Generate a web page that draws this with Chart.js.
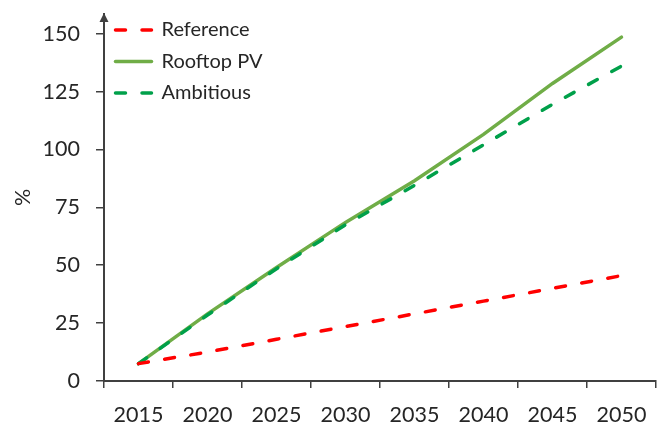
<!DOCTYPE html>
<html>
<head>
<meta charset="utf-8">
<script src="https://cdn.jsdelivr.net/npm/chart.js@4/dist/chart.umd.min.js"></script>
<style>
  html, body { margin: 0; padding: 0; background: #fff; }
  #wrap { width: 663px; height: 429px; position: relative; }
</style>
</head>
<body>
<div id="wrap"><canvas id="c"></canvas></div>
<script>
const years = ['2015', '2020', '2025', '2030', '2035', '2040', '2045', '2050'];
const reference = [7.5, 12.5, 18, 23.5, 29, 34.5, 40, 45.5];
const rooftopPV = [7.5, 29, 49, 68.5, 86.5, 106.5, 128.5, 148.5];
const ambitious = [7.5, 28.5, 48.5, 67.5, 84.5, 102, 119.5, 136];
const yTicks = [0, 25, 50, 75, 100, 125, 150];

const axisColor = '#404040';
const textColor = '#262626';
const FONT = 'Lato';

const arrowPlugin = {
  id: 'arrow',
  afterDraw(chart) {
    const ctx = chart.ctx;
    const x = chart.scales.y.right;
    const top = chart.chartArea.top;
    ctx.save();
    ctx.fillStyle = axisColor;
    ctx.beginPath();
    ctx.moveTo(x, top - 1);
    ctx.lineTo(x - 4.5, top + 8);
    ctx.lineTo(x + 4.5, top + 8);
    ctx.closePath();
    ctx.fill();
    ctx.restore();
  }
};

new Chart(document.getElementById('c'), {
  type: 'line',
  data: {
    labels: years,
    datasets: [
      { label: 'Reference', data: reference, borderColor: '#FF0000', backgroundColor: '#FF0000',
        borderWidth: 3.5, borderDash: [10, 16.5], borderCapStyle: 'round', pointRadius: 0, order: 0 },
      { label: 'Rooftop PV', data: rooftopPV, borderColor: '#70AD47', backgroundColor: '#70AD47',
        borderWidth: 3.5, borderCapStyle: 'round', pointRadius: 0, order: 2 },
      { label: 'Ambitious', data: ambitious, borderColor: '#00A04A', backgroundColor: '#00A04A',
        borderWidth: 3.5, borderDash: [10, 16.5], borderCapStyle: 'round', pointRadius: 0, order: 1 }
    ]
  },
  options: {
    responsive: true,
    maintainAspectRatio: false,
    animation: false,
    devicePixelRatio: 1,
    layout: { padding: { left: 0, right: 7, top: 14, bottom: 0 } },
    elements: { line: { tension: 0 } },
    plugins: {
      tooltip: { enabled: false },
      legend: {
        position: 'chartArea',
        align: 'start',
        title: { display: true, text: '', font: { size: 5, lineHeight: 1 }, padding: { top: 3.5, bottom: 0 } },
        labels: {
          usePointStyle: true,
          pointStyle: 'line',
          pointStyleWidth: 36,
          padding: 11.5,
          color: textColor,
          font: { family: FONT, size: 20 },
          sort: (a, b) => a.datasetIndex - b.datasetIndex,
          generateLabels: (chart) => Chart.defaults.plugins.legend.labels.generateLabels(chart).map(l => {
            const ds = chart.data.datasets[l.datasetIndex];
            l.lineDash = ds.borderDash || [];
            l.lineCap = 'round';
            l.lineWidth = ds.borderWidth;
            l.strokeStyle = ds.borderColor;
            l.fillStyle = ds.borderColor;
            l.pointStyle = 'line';
            return l;
          })
        }
      }
    },
    scales: {
      x: {
        type: 'category',
        offset: true,
        border: { display: true, color: axisColor, width: 2 },
        grid: { display: true, offset: true, drawOnChartArea: false, drawTicks: true, tickLength: 7, color: axisColor, lineWidth: 1.5 },
        ticks: { color: textColor, font: { family: FONT, size: 21.5 }, padding: 14, maxRotation: 0, autoSkip: false },
        afterFit: (s) => { s.height = 48; }
      },
      y: {
        min: 0,
        max: 158.5,
        border: { display: true, color: axisColor, width: 2 },
        grid: { display: true, drawOnChartArea: false, drawTicks: true, tickLength: 8, color: axisColor, lineWidth: 1.5 },
        afterBuildTicks: (s) => { s.ticks = yTicks.map(v => ({ value: v })); },
        ticks: { color: textColor, font: { family: FONT, size: 21.5 }, padding: 16, includeBounds: false },
        title: { display: true, text: '%', color: textColor, font: { family: FONT, size: 21.5 }, padding: { top: 10, bottom: 0 } },
        afterFit: (s) => { s.width = 104; s.paddingTop = 0; s.paddingBottom = 0; }
      }
    }
  },
  plugins: [arrowPlugin]
});
</script>
</body>
</html>
